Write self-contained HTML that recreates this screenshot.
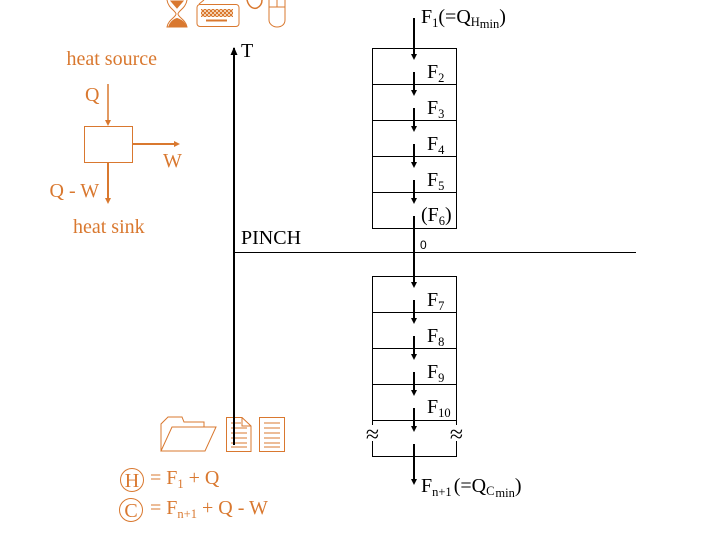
<!DOCTYPE html>
<html><head><meta charset="utf-8"><style>
html,body{margin:0;padding:0;background:#fff;width:720px;height:540px;overflow:hidden}
svg{display:block}
text{font-family:"Liberation Serif",serif;font-size:20px}
.k{fill:#000}.o{fill:#d9782f}
.s{font-size:12.500px}
</style></head><body>
<svg width="720" height="540" viewBox="0 0 720 540" xmlns="http://www.w3.org/2000/svg">
<defs>
<pattern id="chk" width="4" height="4" patternUnits="userSpaceOnUse"><rect width="4" height="4" fill="#f3cfae"/><rect width="2" height="2" fill="#d9782f"/><rect x="2" y="2" width="2" height="2" fill="#d9782f"/></pattern>
</defs>
<!-- top icons -->
<g fill="none" stroke="#d9782f" stroke-width="1">
<path d="M167 0C168 8 176 11 176 14C176 17 168 20 167 27H187C186 20 178 17 178 14C178 11 186 8 187 0"/>
<path d="M169 26C171 21 175 19 177 18.500C179 19 184 21 186 26Z" fill="#d9782f"/>
<path d="M171 1L177 8L183 1Z" fill="#d9782f"/>
<rect x="197" y="4.500" width="42" height="22" rx="3"/>
<path d="M199 4L204 0"/>
<path d="M247 0C249 8 254 9 257 8C261 6 262 3 262 0" stroke-width="1.500"/>
<path d="M269 0V20C269 24 273 27 277 27C282 27 285 24 285 20V0M269 7H285M277 0V7"/>
</g>
<rect x="201" y="9" width="32" height="8" fill="url(#chk)"/>
<rect x="206" y="19.500" width="21" height="2" fill="#d9782f"/>
<!-- pinch axis -->
<line x1="234" y1="445" x2="234" y2="48" stroke="#000" stroke-width="2"/>
<path d="M230.500 55L234 47L237.500 55Z" fill="#000"/>
<line x1="234" y1="252.500" x2="636" y2="252.500" stroke="#000" stroke-width="1"/>
<text class="k" x="241" y="57">T</text>
<text class="k" x="241" y="244">PINCH</text>
<!-- box ladder -->
<g fill="none" stroke="#000" stroke-width="1">
<rect x="372.500" y="48.500" width="84" height="180"/>
<path d="M372.500 84.500H456.500M372.500 120.500H456.500M372.500 156.500H456.500M372.500 192.500H456.500"/>
<rect x="372.500" y="276.500" width="84" height="180"/>
<path d="M372.500 312.500H456.500M372.500 348.500H456.500M372.500 384.500H456.500M372.500 420.500H456.500"/>
</g>
<rect x="360" y="425" width="24" height="16" fill="#fff"/>
<rect x="444" y="425" width="24" height="16" fill="#fff"/>
<!-- arrows -->
<g stroke="#000" stroke-width="2">
<line x1="414" y1="18" x2="414" y2="56"/>
<line x1="414" y1="72" x2="414" y2="92"/>
<line x1="414" y1="108" x2="414" y2="128"/>
<line x1="414" y1="144" x2="414" y2="164"/>
<line x1="414" y1="180" x2="414" y2="200"/>
<line x1="414" y1="216" x2="414" y2="284"/>
<line x1="414" y1="300" x2="414" y2="320"/>
<line x1="414" y1="336" x2="414" y2="356"/>
<line x1="414" y1="372" x2="414" y2="392"/>
<line x1="414" y1="408" x2="414" y2="428"/>
<line x1="414" y1="444" x2="414" y2="480"/>
</g>
<g fill="#000">
<path d="M411 54H417L414 60Z"/><path d="M411 90H417L414 96Z"/><path d="M411 126H417L414 132Z"/><path d="M411 162H417L414 168Z"/><path d="M411 198H417L414 204Z"/><path d="M411 282H417L414 288Z"/><path d="M411 318H417L414 324Z"/><path d="M411 354H417L414 360Z"/><path d="M411 390H417L414 396Z"/><path d="M411 426H417L414 432Z"/><path d="M411 479H417L414 485Z"/>
</g>
<!-- labels -->
<text class="k" x="421" y="23">F<tspan class="s" dy="4">1</tspan><tspan dy="-4">(=Q</tspan><tspan class="s" dy="3">H</tspan><tspan class="s" dy="2">min</tspan><tspan dy="-5">)</tspan></text>
<text class="k" x="427" y="78">F<tspan class="s" dy="4">2</tspan></text>
<text class="k" x="427" y="114">F<tspan class="s" dy="4">3</tspan></text>
<text class="k" x="427" y="150">F<tspan class="s" dy="4">4</tspan></text>
<text class="k" x="427" y="186">F<tspan class="s" dy="4">5</tspan></text>
<text class="k" x="421" y="221">(F<tspan class="s" dy="4">6</tspan><tspan dy="-4">)</tspan></text>
<text class="k" x="420" y="249" style="font-family:'Liberation Sans',sans-serif;font-size:12px">0</text>
<text class="k" x="427" y="306">F<tspan class="s" dy="4">7</tspan></text>
<text class="k" x="427" y="342">F<tspan class="s" dy="4">8</tspan></text>
<text class="k" x="427" y="378">F<tspan class="s" dy="4">9</tspan></text>
<text class="k" x="427" y="413">F<tspan class="s" dy="4">10</tspan></text>
<text class="k" x="421" y="492">F<tspan class="s" dy="4">n+1</tspan><tspan dy="-4" dx="2">(=Q</tspan><tspan class="s" dy="3">C</tspan><tspan class="s" dy="2" dx="1">min</tspan><tspan dy="-5">)</tspan></text>
<text class="k" x="372.500" y="442" text-anchor="middle" style="font-size:24px">≈</text>
<text class="k" x="456.500" y="442" text-anchor="middle" style="font-size:24px">≈</text>
<!-- heat engine -->
<g stroke="#d9782f" fill="none">
<rect x="84.500" y="126.500" width="48" height="36"/>
<line x1="108" y1="84" x2="108" y2="122" stroke-width="1.500"/>
<line x1="133" y1="144" x2="176" y2="144" stroke-width="2"/>
<line x1="108" y1="163" x2="108" y2="200" stroke-width="2"/>
</g>
<g fill="#d9782f">
<path d="M105 120H111L108 126Z"/>
<path d="M174 141V147L180 144Z"/>
<path d="M105 198H111L108 204Z"/>
</g>
<text class="o" x="66.500" y="65">heat source</text>
<text class="o" x="85" y="101">Q</text>
<text class="o" x="163" y="167">W</text>
<text class="o" x="49.500" y="197">Q - W</text>
<text class="o" x="73" y="233">heat sink</text>
<!-- bottom icons -->
<g fill="none" stroke="#d9782f" stroke-width="1">
<path d="M161 451V424L168 417H182L184 422H204V427"/>
<path d="M161 451L172 427H216L205 451Z"/>
<path d="M226.500 417.500H242L251 426V451.500H226.500Z"/>
<path d="M242 417.500V426H251"/>
<path d="M231 423H241M231 428H247M231 433H247M231 438H247M231 443H247M231 447H247"/>
<rect x="259.500" y="417.500" width="25" height="34"/>
<path d="M264 423H280M264 428H280M264 433H280M264 438H280M264 443H280M264 447H280"/>
<circle cx="132" cy="480" r="11.500"/>
<circle cx="131" cy="510" r="11.500"/>
</g>
<line x1="234" y1="415" x2="234" y2="445" stroke="#000" stroke-width="2"/>
<text class="o" x="132" y="487" text-anchor="middle">H</text>
<text class="o" x="131" y="517" text-anchor="middle">C</text>
<text class="o" x="150" y="484">= F<tspan class="s" dy="4">1</tspan><tspan dy="-4"> + Q</tspan></text>
<text class="o" x="150" y="514">= F<tspan class="s" dy="4">n+1</tspan><tspan dy="-4"> + Q - W</tspan></text>
</svg>
</body></html>
